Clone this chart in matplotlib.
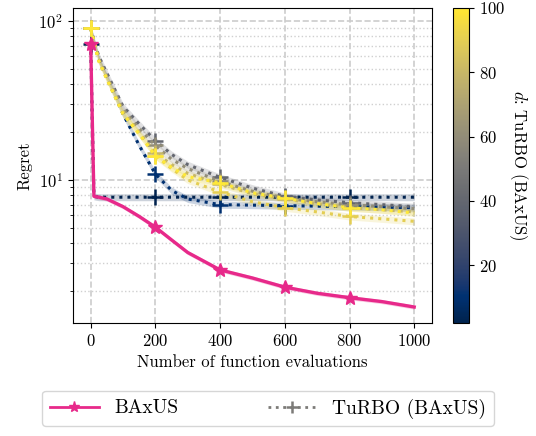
import numpy as np
import matplotlib
matplotlib.use("Agg")
import matplotlib.pyplot as plt
from matplotlib import cm, colors

plt.rcParams["font.family"] = "serif"
plt.rcParams["font.serif"] = ["cmr10"]
plt.rcParams["mathtext.fontset"] = "cm"
plt.rcParams["axes.formatter.use_mathtext"] = True
plt.rcParams["font.size"] = 12

evals = [0, 10, 25, 50, 100, 150, 200, 250, 300, 400, 500, 600, 700, 800, 900, 1000]
marker_idx = [0, 6, 9, 11, 13]

baxus = [72, 7.9, 7.8, 7.6, 6.8, 5.9, 5.05, 4.2, 3.5, 2.72, 2.42, 2.12, 1.94, 1.82, 1.72, 1.59]

# TuRBO (BAxUS) runs for different target dimensions d
turbo_d = [2, 10, 40, 60, 80, 90, 100]
turbo_regret = [
    [72, 7.9, 7.8, 7.8, 7.8, 7.8, 7.8, 7.8, 7.8, 7.8, 7.8, 7.8, 7.8, 7.8, 7.8, 7.8],
    [90, 75, 57, 44, 26, 16.5, 10.9, 8.6, 7.6, 7.0, 6.95, 6.9, 6.85, 6.8, 6.75, 6.7],
    [90, 76, 60, 47, 29, 22.5, 17.7, 14.5, 12.5, 10.4, 8.9, 7.9, 7.5, 7.2, 7.0, 6.8],
    [90, 75, 58, 45, 28, 21, 16.5, 13.5, 11.8, 9.8, 8.5, 7.7, 7.3, 7.0, 6.8, 6.6],
    [90, 75, 57, 44, 27, 20, 14.8, 12.5, 11, 9.4, 8.2, 7.6, 7.1, 6.7, 6.5, 6.3],
    [90, 74, 56, 43, 26, 19.5, 14.2, 11.8, 10.0, 8.4, 7.3, 6.7, 6.3, 5.9, 5.7, 5.5],
    [90, 74, 56, 43, 26, 19.5, 14.2, 12, 10.5, 9.6, 8.3, 7.7, 7.1, 6.7, 6.5, 6.2],
]

cmap = cm.cividis
norm = colors.Normalize(vmin=2, vmax=100)

fig = plt.figure(figsize=(5.36, 4.36), dpi=100)
ax = fig.add_axes([0.136, 0.259, 0.67, 0.723])
cax = fig.add_axes([0.845, 0.259, 0.03, 0.723])

x = np.array(evals)

for d, vals in zip(turbo_d, turbo_regret):
    v = np.array(vals)
    c = cmap(norm(d))
    ax.fill_between(x, v * 0.95, v * 1.05, color=c, alpha=0.2, lw=0)
    ax.plot(x, v, ls=":", lw=2.2, color=c, marker="+", ms=11, mew=1.8,
            markevery=marker_idx)

b = np.array(baxus)
ax.fill_between(x, b * 0.97, b * 1.03, color="#e7298a", alpha=0.25, lw=0)
ax.plot(x, b, ls="-", lw=2.4, color="#e7298a", marker="*", ms=10,
        markevery=marker_idx)

ax.set_yscale("log")
ax.set_ylim(1.26, 121)
ax.set_xlim(-55, 1055)
ax.set_xticks([0, 200, 400, 600, 800, 1000])
ax.grid(True, which="major", ls="--", color="#cccccc", lw=1.2)
ax.grid(True, which="minor", axis="y", ls=":", color="#d0d0d0", lw=1.0)
ax.set_axisbelow(True)
ax.set_xlabel("Number of function evaluations")
ax.set_ylabel("Regret")

sm = cm.ScalarMappable(norm=norm, cmap=cmap)
cb = fig.colorbar(sm, cax=cax)
cb.set_ticks([20, 40, 60, 80, 100])
cb.set_label("$d$: TuRBO (BAxUS)", rotation=270, labelpad=18)

handles = [
    plt.Line2D([], [], color="#e7298a", lw=2, marker="*", ms=8),
    plt.Line2D([], [], color="#7c7b78", lw=2, ls=":", marker="+", ms=9, mew=1.8),
]
fig.legend(handles, ["BAxUS", "TuRBO (BAxUS)"], loc="lower center",
           bbox_to_anchor=(0.5, 0.0), ncol=2, fontsize=14, columnspacing=4.6,
           handlelength=2.5, frameon=True)

fig.savefig("out.png", dpi=100)
